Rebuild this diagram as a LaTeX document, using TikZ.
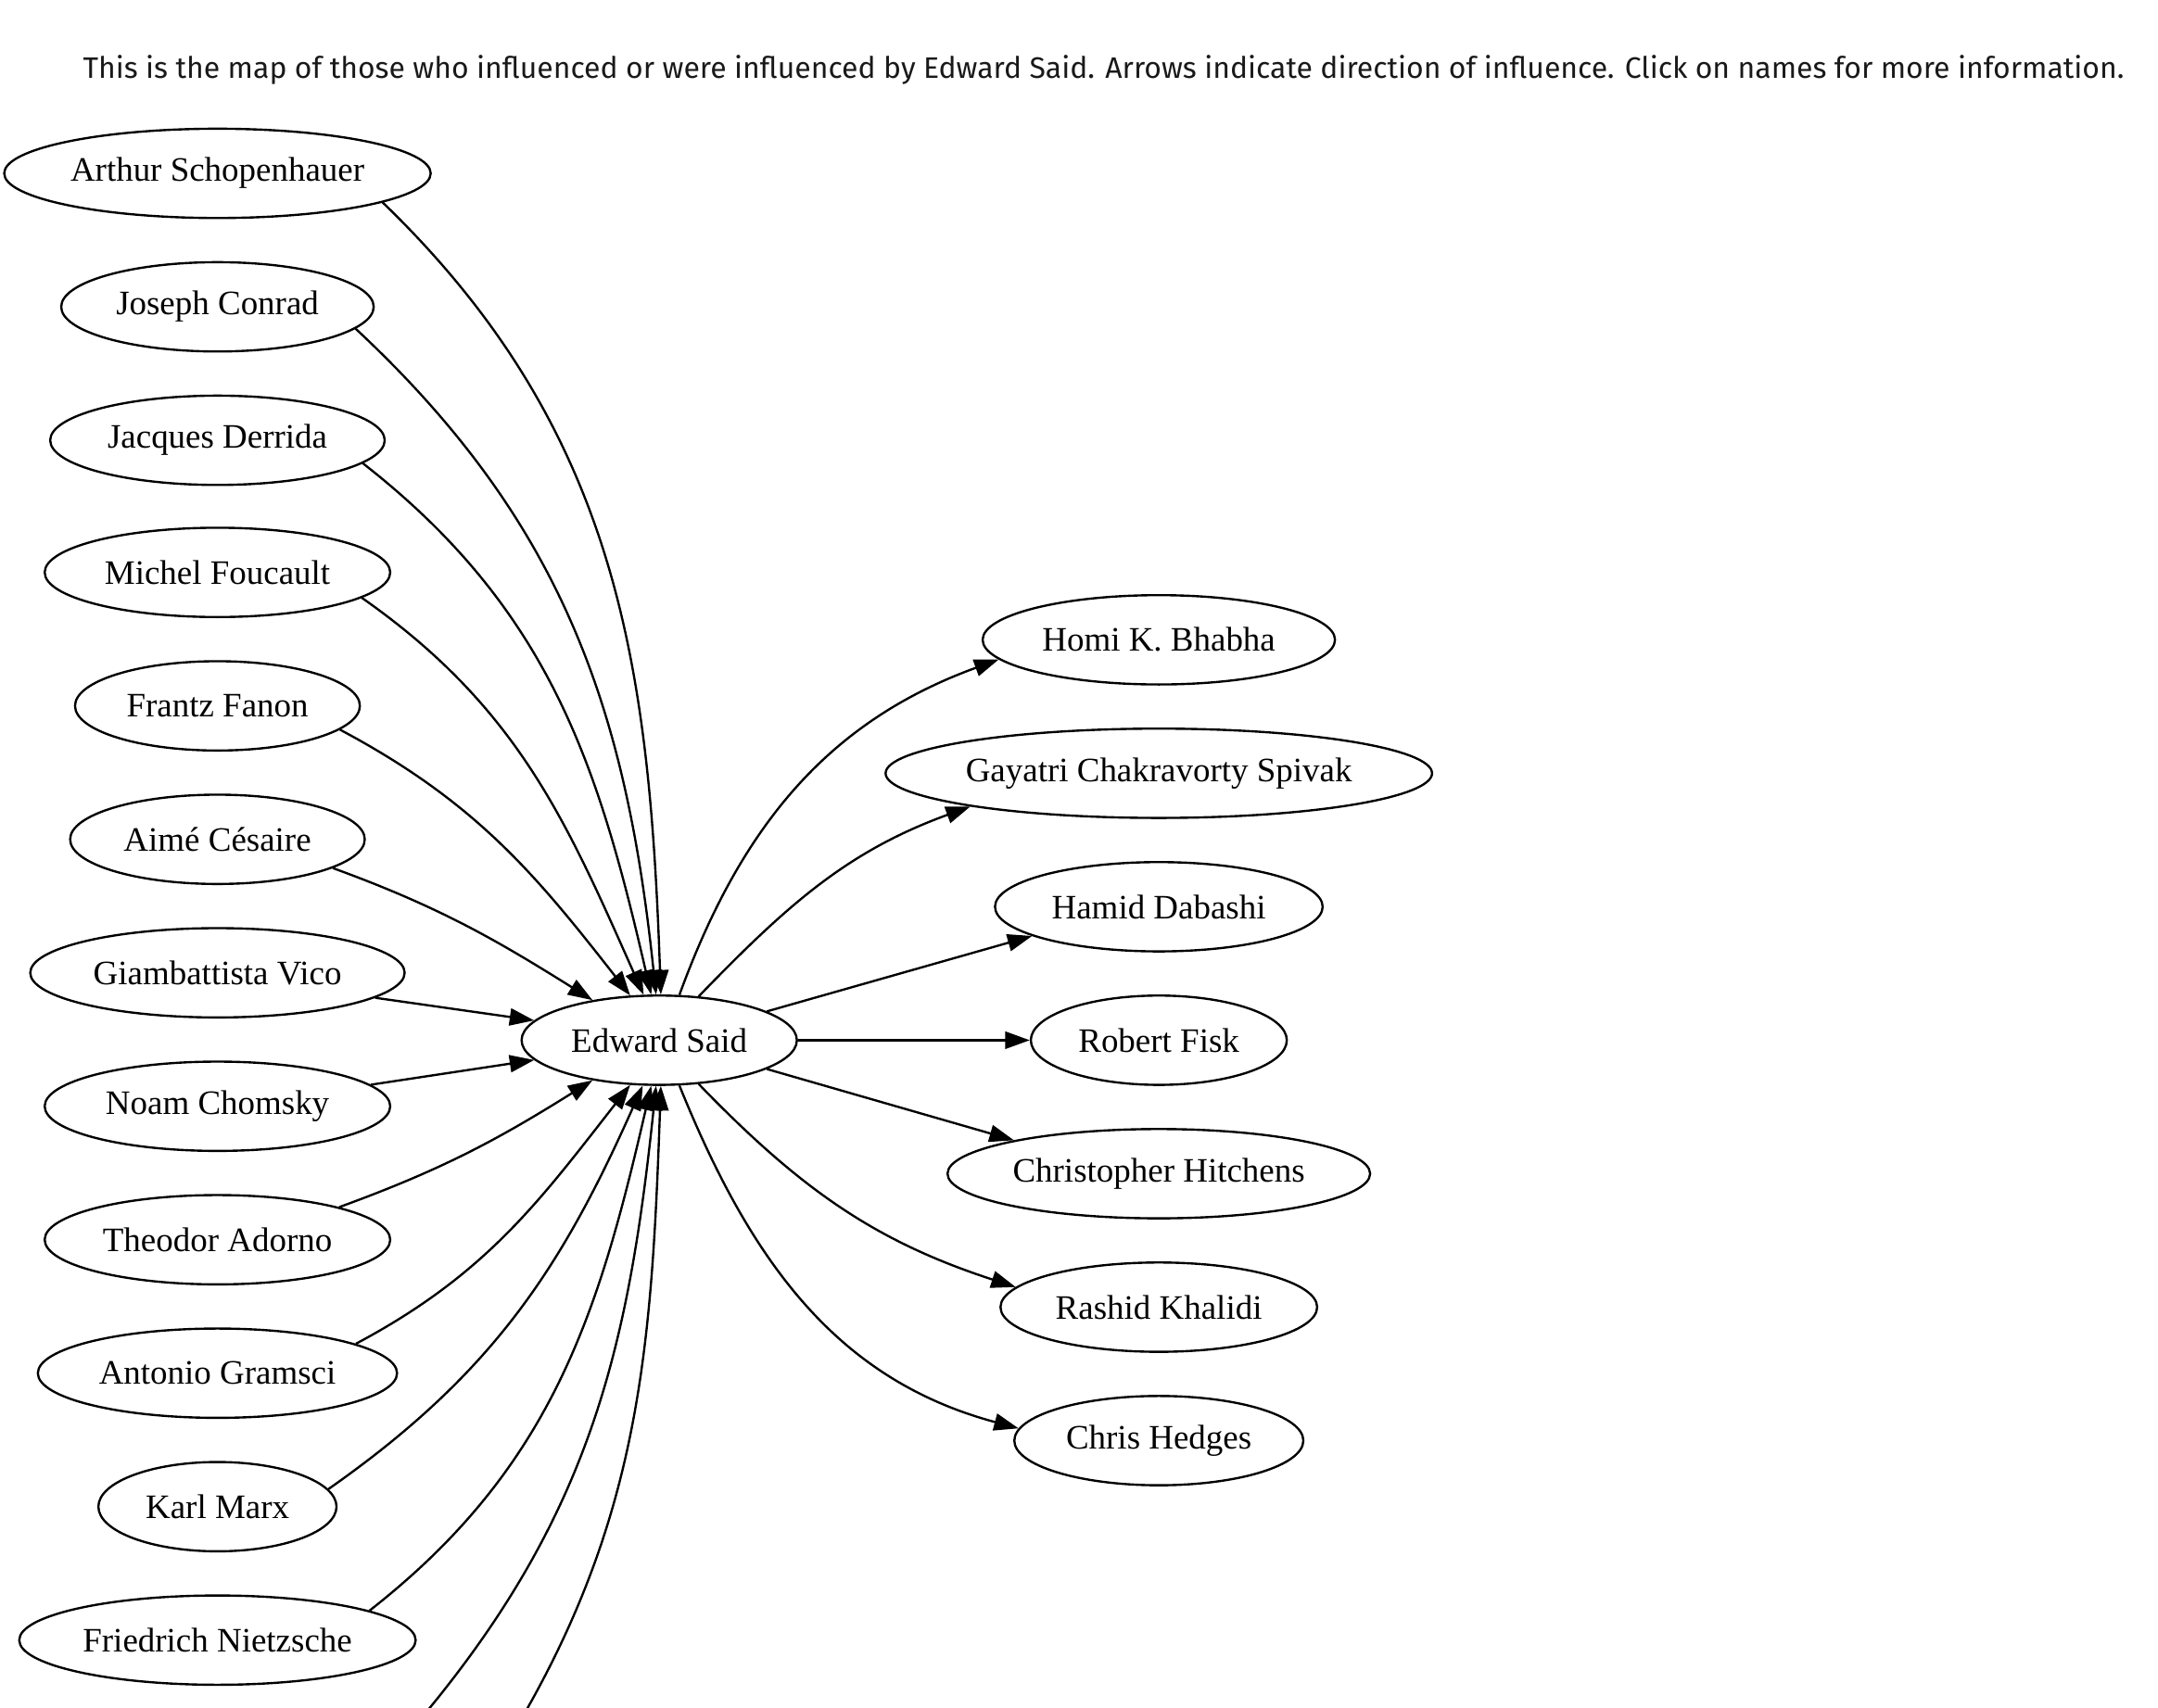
\documentclass[tikz,border=0pt]{standalone}
\usepackage{fontspec}
\setmainfont{Liberation Serif}
\newfontfamily\captionfont{Fira Sans}
\usetikzlibrary{arrows.meta,shapes.geometric}

\begin{document}
\begin{tikzpicture}[
  x=0.5624pt, y=0.5624pt,
  person/.style={draw, ellipse, line width=0.9pt, inner sep=0pt, minimum height=36.5pt, font=\fontsize{14}{16}\selectfont},
  arrow/.style={-{Triangle[length=10pt,width=7pt]}, line width=0.9pt},
  caption/.style={font=\captionfont\fontsize{12.1}{14}\selectfont, text=black!90, inner sep=0pt}
]
\useasboundingbox (0,0) rectangle (1568,-1241);

\node[caption, anchor=base west] (caption) at (60,-57)
  {This is the map of those who influenced or were influenced by Edward Said. Arrows indicate direction of influence. Click on names for more information.};

\node[person, minimum width=174.3pt] (schop) at (158,-126) {Arthur Schopenhauer};
\node[person, minimum width=127.7pt] (conrad) at (158,-223) {Joseph Conrad};
\node[person, minimum width=136.7pt] (derrida) at (158,-320) {Jacques Derrida};
\node[person, minimum width=141.2pt] (foucault) at (158,-416) {Michel Foucault};
\node[person, minimum width=116.4pt] (fanon) at (158,-513) {Frantz Fanon};
\node[person, minimum width=120.4pt] (cesaire) at (158,-610) {Aimé Césaire};
\node[person, minimum width=153.0pt] (vico) at (158,-707) {Giambattista Vico};
\node[person, minimum width=141.2pt] (chomsky) at (158,-804) {Noam Chomsky};
\node[person, minimum width=141.2pt] (adorno) at (158,-901) {Theodor Adorno};
\node[person, minimum width=146.8pt] (gramsci) at (158,-998) {Antonio Gramsci};
\node[person, minimum width=97.3pt] (marx) at (158,-1095) {Karl Marx};
\node[person, minimum width=162.0pt] (nietzsche) at (158,-1192) {Friedrich Nietzsche};
\coordinate (lost1) at (305,-1250);
\coordinate (lost2) at (355,-1288);

\node[person, minimum width=112.5pt] (said) at (479,-756) {Edward Said};

\node[person, minimum width=144.0pt] (bhabha) at (842,-465) {Homi K. Bhabha};
\node[person, minimum width=223.3pt] (spivak) at (842,-562) {Gayatri Chakravorty Spivak};
\node[person, minimum width=133.9pt] (dabashi) at (842,-659) {Hamid Dabashi};
\node[person, minimum width=104.6pt] (fisk) at (842,-756) {Robert Fisk};
\node[person, minimum width=172.7pt] (hitchens) at (842,-853) {Christopher Hitchens};
\node[person, minimum width=129.4pt] (khalidi) at (842,-950) {Rashid Khalidi};
\node[person, minimum width=118.1pt] (hedges) at (842,-1047) {Chris Hedges};

\draw[arrow] (schop.-10) to[out=-44,in=92] (said.88);
\draw[arrow] (conrad.-9) to[out=-43,in=96] (said.94);
\draw[arrow] (derrida.-9) to[out=-38,in=103] (said.100);
\draw[arrow] (foucault.-10) to[out=-35,in=114] (said.109);
\draw[arrow] (fanon.-11) to[out=-28,in=128] (said.123);
\draw[arrow] (cesaire.-14) to[out=-20,in=148] (said.149);
\draw[arrow] (vico.-9) -- (said.171);
\draw[arrow] (chomsky.8) -- (said.189);
\draw[arrow] (adorno.15) to[out=20,in=-148] (said.211);
\draw[arrow] (gramsci.12) to[out=28,in=-128] (said.237);
\draw[arrow] (marx.9) to[out=35,in=-114] (said.250);
\draw[arrow] (nietzsche.11) to[out=38,in=-103] (said.260);
\draw[arrow] (lost1) to[out=50,in=-96] (said.266);
\draw[arrow] (lost2) to[out=57,in=-92] (said.272);

\draw[arrow] (said.66) to[out=70,in=-160] (bhabha.187);
\draw[arrow] (said.48) to[out=46,in=-160] (spivak.190);
\draw[arrow] (said.15) -- (dabashi.193);
\draw[arrow] (said.0) -- (fisk.180);
\draw[arrow] (said.-15) -- (hitchens.167);
\draw[arrow] (said.-48) to[out=-46,in=162] (khalidi.172);
\draw[arrow] (said.-66) to[out=-68,in=165] (hedges.175);

\end{tikzpicture}
\end{document}
